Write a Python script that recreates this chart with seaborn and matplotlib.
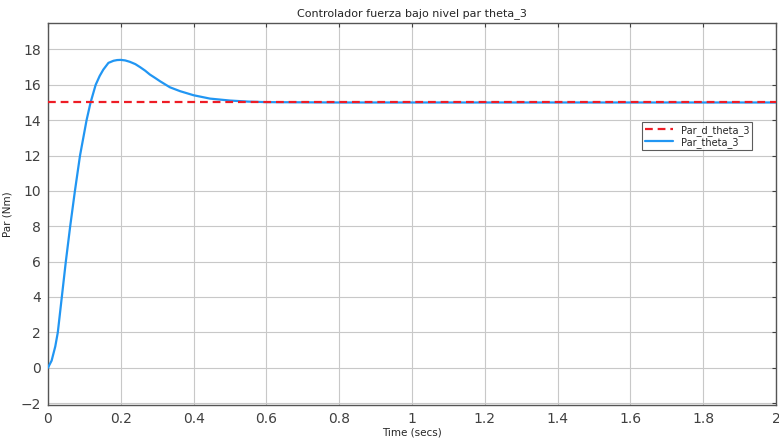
import numpy as np
import pandas as pd
import seaborn as sns
import matplotlib.pyplot as plt
from matplotlib.ticker import FormatStrFormatter, MultipleLocator

time_s = [0, 0.01, 0.02, 0.027, 0.038, 0.049, 0.061, 0.074, 0.088, 0.097,
          0.106, 0.117, 0.131, 0.142, 0.152, 0.166, 0.18, 0.19, 0.2, 0.212,
          0.225, 0.24, 0.253, 0.267, 0.28, 0.295, 0.308, 0.335, 0.363, 0.4,
          0.445, 0.5, 0.55, 0.6, 0.7, 0.8, 1.0, 2.0]
par_theta_3 = [0, 0.4, 1.2, 2, 4, 6, 8, 10, 12, 13,
               14, 15, 16, 16.5, 16.86, 17.24, 17.36, 17.4, 17.41, 17.38,
               17.3, 17.17, 17.0, 16.8, 16.58, 16.38, 16.2, 15.86, 15.64, 15.41,
               15.22, 15.11, 15.05, 15.02, 15.01, 15.0, 15.0, 15.0]

# Reference torque
ref_time = [0, 2.0]
par_d_theta_3 = [15, 15]

df = pd.concat([
    pd.DataFrame({'t': ref_time, 'par': par_d_theta_3, 'serie': 'Par_d_theta_3'}),
    pd.DataFrame({'t': time_s, 'par': par_theta_3, 'serie': 'Par_theta_3'}),
])

sns.set_style('whitegrid')
plt.rcParams['font.family'] = ['DejaVu Sans']

fig = plt.figure(figsize=(7.79, 4.41), dpi=100)
ax = fig.add_axes([0.0616, 0.082, 0.9345, 0.866])

sns.lineplot(data=df, x='t', y='par', hue='serie', style='serie',
             palette={'Par_d_theta_3': '#ee1c25', 'Par_theta_3': '#2196f3'},
             dashes={'Par_d_theta_3': (3.5, 2.2), 'Par_theta_3': ''},
             linewidth=1.6, ax=ax, sort=False)
# dashed reference drawn over the response, as in the original
ax.lines[0].set_zorder(4)
ax.lines[1].set_zorder(3)

ax.set_xlim(0, 2)
ax.set_ylim(-2.1, 19.5)
ax.xaxis.set_major_locator(MultipleLocator(0.2))
ax.xaxis.set_major_formatter(FormatStrFormatter('%g'))
ax.set_yticks(np.arange(-2, 19, 2))
ax.tick_params(direction='in', length=3, labelsize=10, colors='#404040',
               top=True, right=True, pad=5)
ax.grid(True, color='#c8c8c8', linewidth=0.8)
for s in ax.spines.values():
    s.set_color('#555555')
    s.set_linewidth(1.0)

ax.set_title('Controlador fuerza bajo nivel par theta_3', fontsize=8, pad=5)
ax.set_xlabel('Time (secs)', fontsize=7.5, labelpad=1)
ax.set_ylabel('Par (Nm)', fontsize=7.5, labelpad=6)

leg = ax.legend(loc='upper right', bbox_to_anchor=(0.967, 0.741), fontsize=7,
                frameon=True, fancybox=False, handlelength=2.9,
                borderpad=0.3, labelspacing=0.1, borderaxespad=0, title=None)
leg.get_frame().set_edgecolor('#333333')
leg.get_frame().set_linewidth(0.8)

fig.savefig('out.png', dpi=100)
